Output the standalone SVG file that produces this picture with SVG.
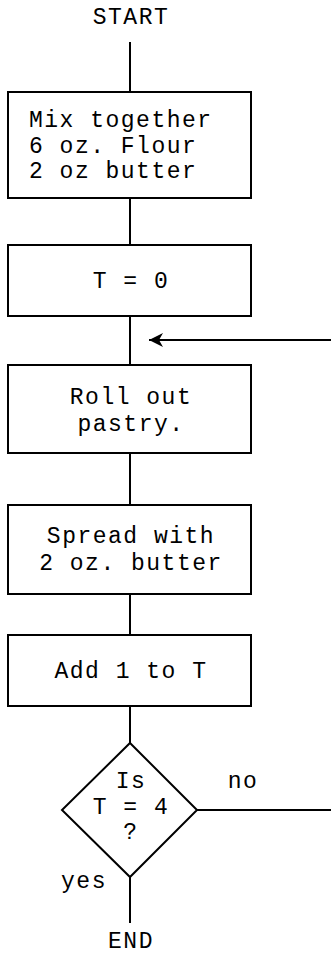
<svg xmlns="http://www.w3.org/2000/svg" width="331" height="955" viewBox="0 0 331 955">
  <style>
    .box { fill: #fff; stroke: #000; stroke-width: 2; }
    .line { fill: none; stroke: #000; stroke-width: 2; }
    text { font-family: "Courier New", "Nimbus Mono PS", "FreeMono", "Liberation Mono", monospace; font-size: 23px; letter-spacing: 1.5px; fill: #000; }
    .c { text-anchor: middle; }
  </style>
  <defs>
    <!-- barbed head, tip at the path end -->
    <marker id="arrow" markerWidth="16" markerHeight="16" refX="15" refY="8" orient="auto" markerUnits="userSpaceOnUse">
      <path d="M15,8 L1,1 L5,8 L1,15 Z" fill="#000"/>
    </marker>
  </defs>

  <g id="connectors">
    <line class="line" x1="130" y1="42" x2="130" y2="92"/>
    <line class="line" x1="130" y1="198" x2="130" y2="245"/>
    <line class="line" x1="130" y1="316" x2="130" y2="365"/>
    <line class="line" x1="331" y1="340" x2="149" y2="340" marker-end="url(#arrow)"/>
    <line class="line" x1="130" y1="453" x2="130" y2="505"/>
    <line class="line" x1="130" y1="594" x2="130" y2="635"/>
    <line class="line" x1="130" y1="706" x2="130" y2="743"/>
    <line class="line" x1="197" y1="810" x2="331" y2="810"/>
    <line class="line" x1="130" y1="877" x2="130" y2="923"/>
    <text x="243" y="788" class="c">no</text>
    <text x="84" y="888" class="c">yes</text>
  </g>

  <g id="start">
    <text x="131" y="24" class="c">START</text>
  </g>

  <g id="mix">
    <rect class="box" x="8" y="92" width="243" height="106"/>
    <text x="29" y="127">Mix together</text>
    <text x="29" y="153">6 oz. Flour</text>
    <text x="29" y="178">2 oz butter</text>
  </g>

  <g id="set-t">
    <rect class="box" x="8" y="245" width="243" height="71"/>
    <text x="131" y="288" class="c">T = 0</text>
  </g>

  <g id="roll">
    <rect class="box" x="8" y="365" width="243" height="88"/>
    <text x="131" y="404" class="c">Roll out</text>
    <text x="131" y="431" class="c">pastry.</text>
  </g>

  <g id="spread">
    <rect class="box" x="8" y="505" width="243" height="89"/>
    <text x="131" y="543" class="c">Spread with</text>
    <text x="131" y="570" class="c">2 oz. butter</text>
  </g>

  <g id="add">
    <rect class="box" x="8" y="635" width="243" height="71"/>
    <text x="131" y="678" class="c">Add 1 to T</text>
  </g>

  <g id="decision">
    <polygon class="box" points="130,743 197,810 130,877 62,810"/>
    <text x="131" y="788" class="c">Is</text>
    <text x="131" y="814" class="c">T = 4</text>
    <text x="131" y="839" class="c">?</text>
  </g>

  <g id="end">
    <text x="131" y="948" class="c">END</text>
  </g>
</svg>
